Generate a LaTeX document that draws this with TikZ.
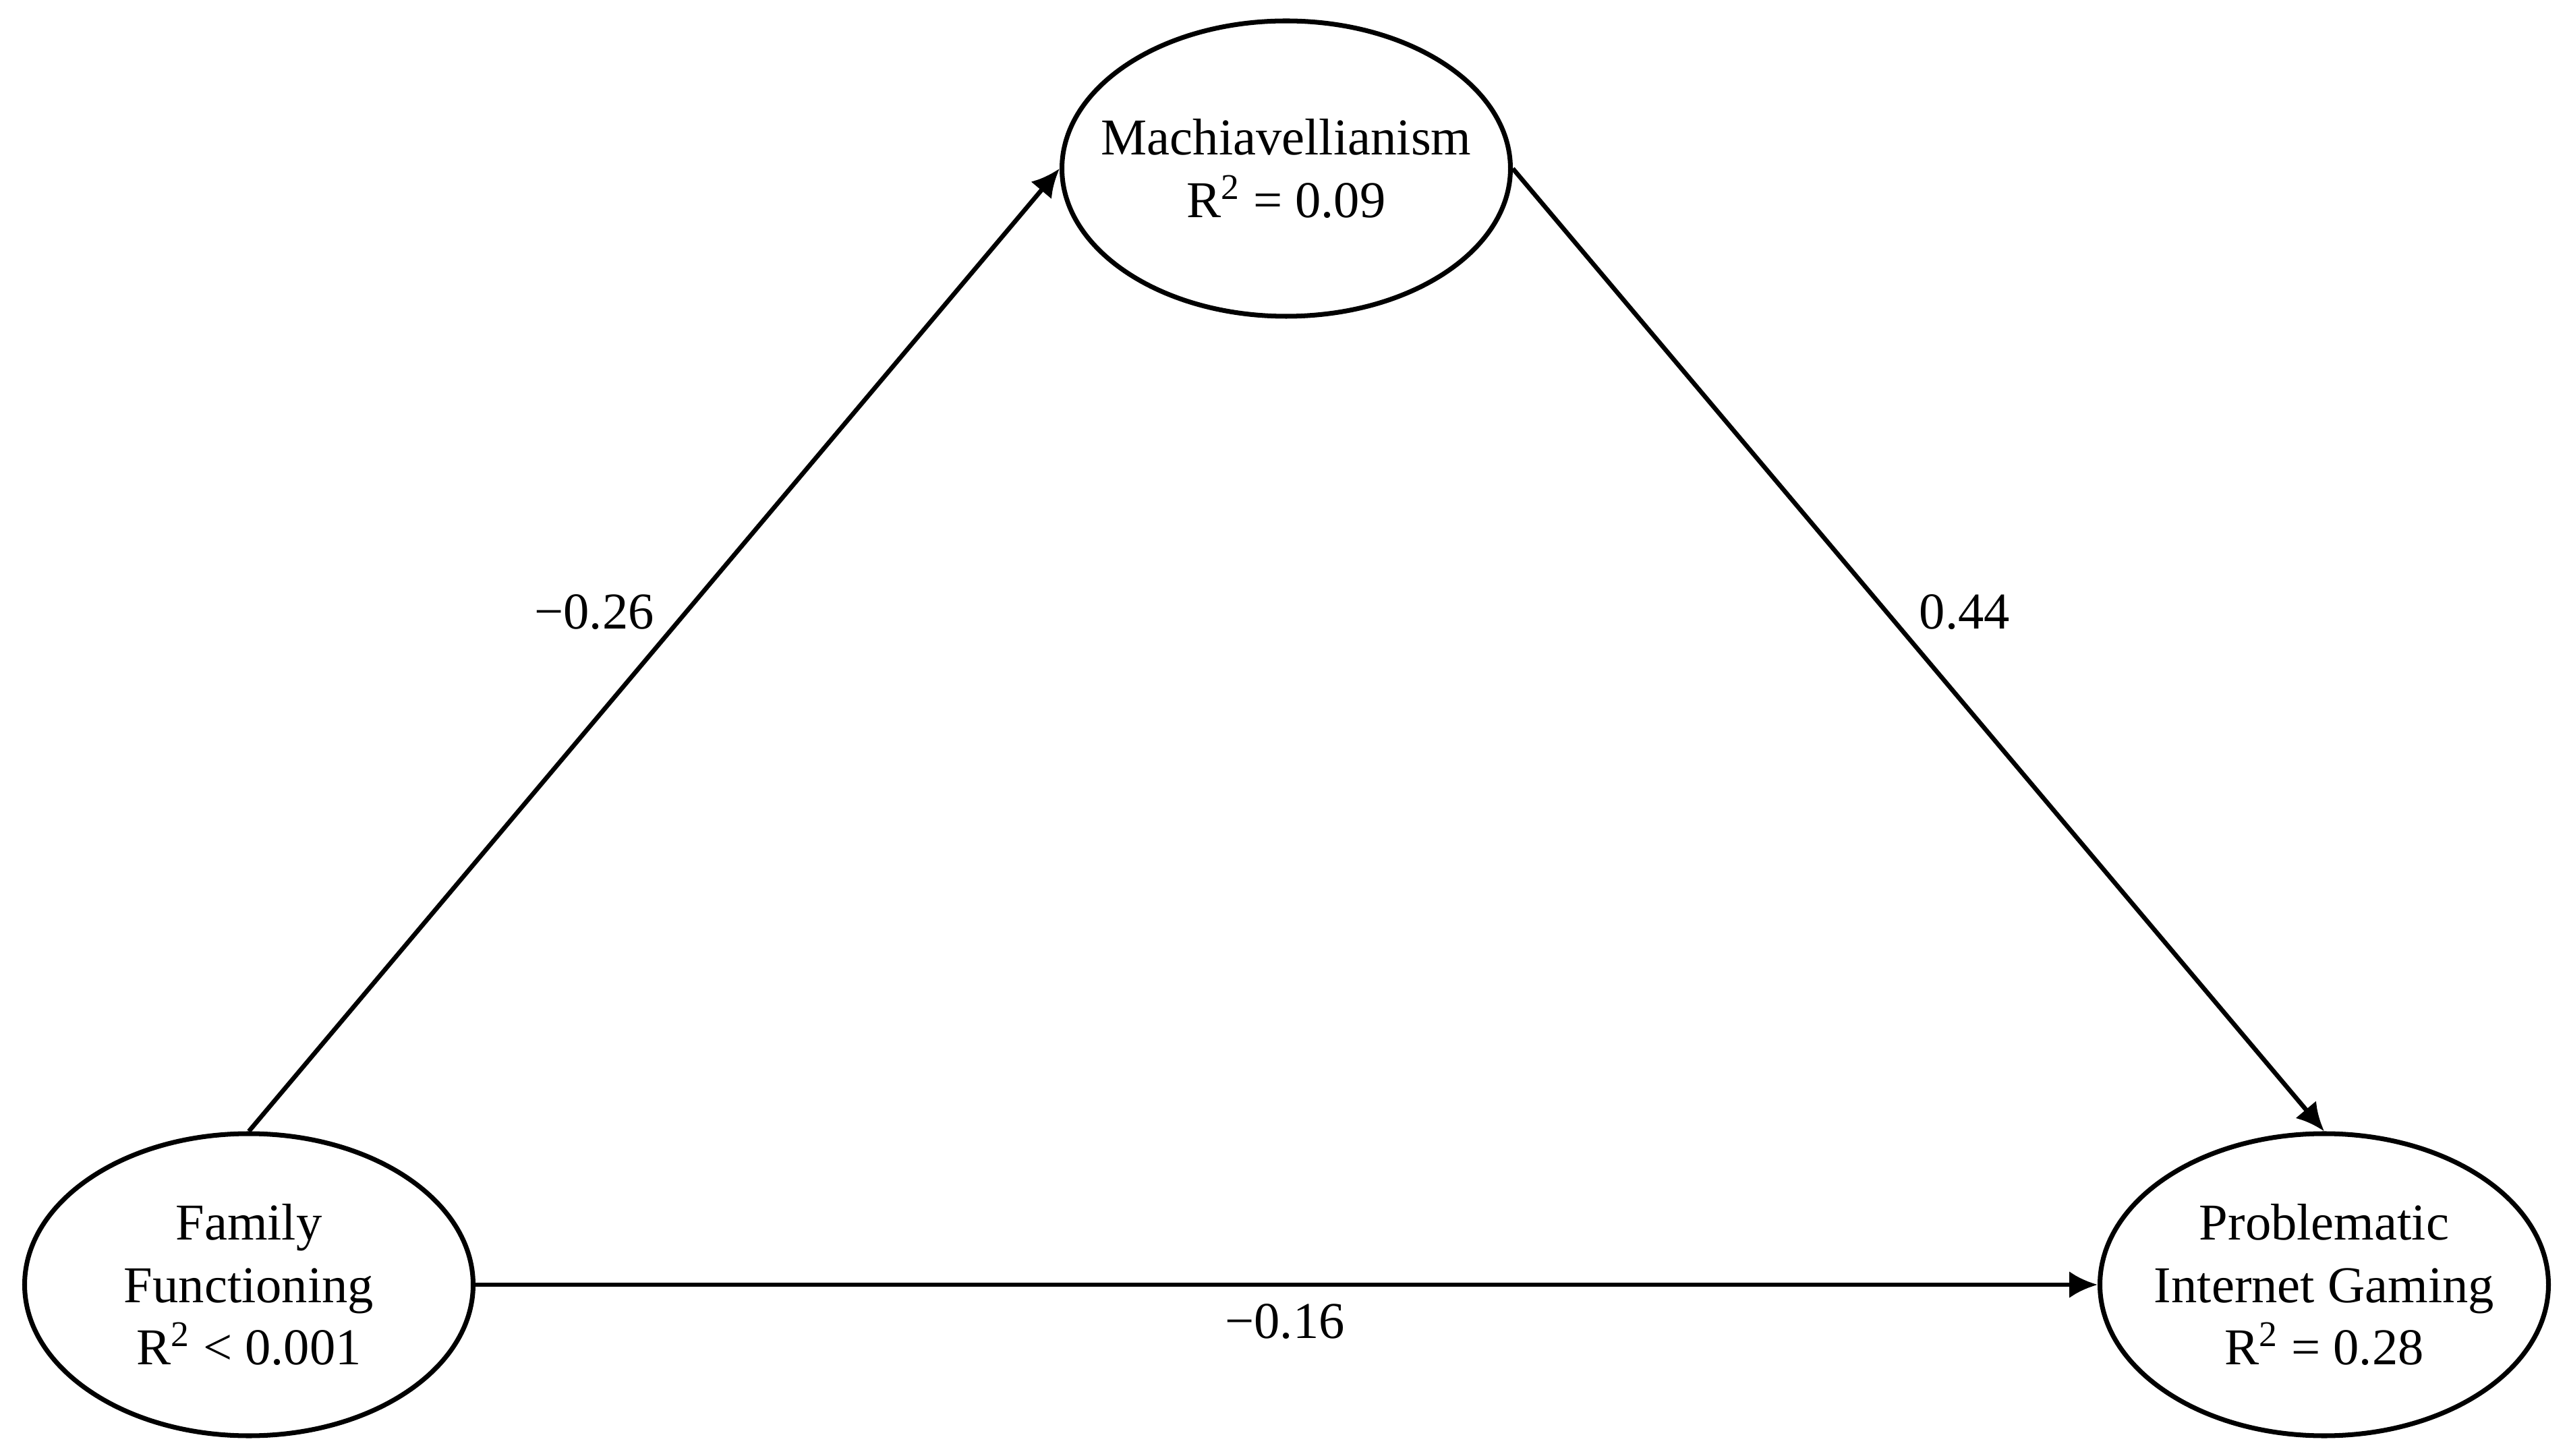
\documentclass[tikz,border=0pt]{standalone}
\usepackage{fontspec}
\setmainfont{Liberation Serif}
\usetikzlibrary{shapes.geometric,arrows.meta}

\begin{document}
\begin{tikzpicture}[>={Latex[length=4.2mm,width=4mm]},
  every node/.style={font=\fontsize{21.8}{26.2}\selectfont},
  latent/.style={ellipse,draw,line width=2pt,minimum width=6.65cm,inner sep=0pt},
  vartext/.style={align=center,inner sep=0pt},
  effect/.style={->,line width=1.9pt},
  coef/.style={inner sep=0pt}]
  % Page extent.
  \useasboundingbox (0,0) rectangle (38.06,21.58);
  % The three variables.
  \node[latent,minimum height=4.38cm] (mach) at (19.07,19.08) {};
  \node[vartext] (mach-t) at (mach) {Machiavellianism\\R\textsuperscript{2} = 0.09};
  \node[latent,minimum height=4.48cm] (fam) at (3.69,2.53) {};
  \node[vartext] (fam-t) at (fam) {Family\\Functioning\\R\textsuperscript{2} < 0.001};
  \node[latent,minimum height=4.48cm] (pig) at (34.46,2.53) {};
  \node[vartext] (pig-t) at (pig) {Problematic\\Internet Gaming\\R\textsuperscript{2} = 0.28};
  % Paths between them.
  \draw[effect] (fam.north) -- (mach.west);
  \draw[effect] (mach.east) -- (pig.north);
  \draw[effect] (fam.east) -- (pig.west);
  % Path coefficients.
  \node[coef] (c-a) at (8.81,12.50) {−0.26};
  \node[coef] (c-b) at (29.13,12.50) {0.44};
  \node[coef] (c-c) at (19.05,1.98) {−0.16};
\end{tikzpicture}
\end{document}
